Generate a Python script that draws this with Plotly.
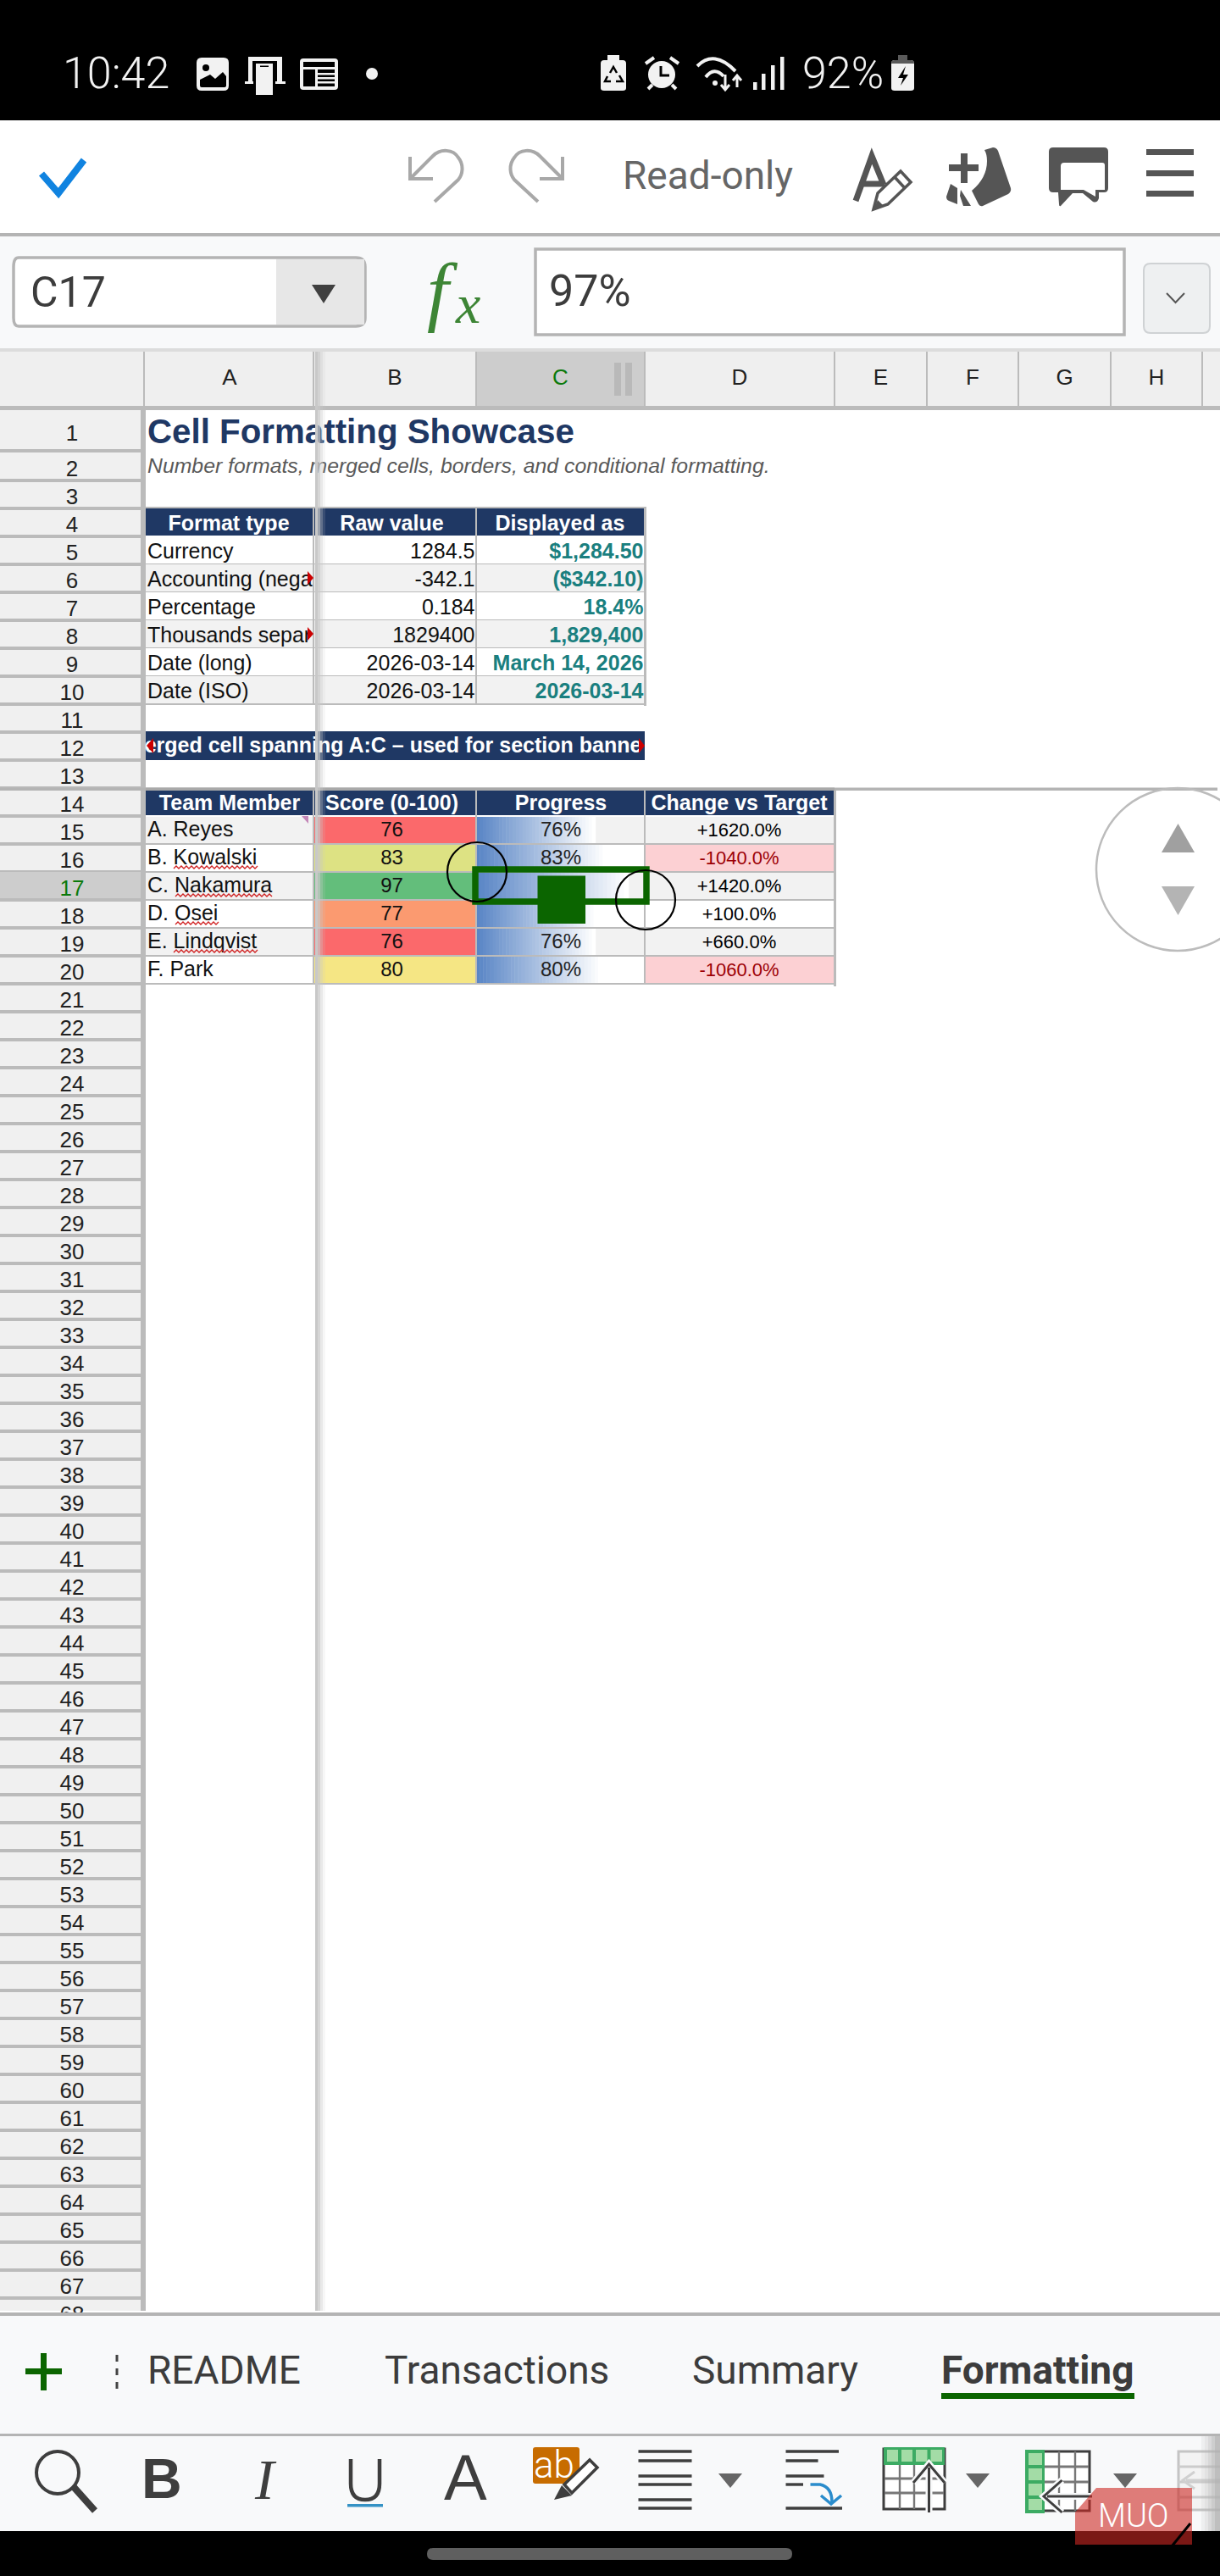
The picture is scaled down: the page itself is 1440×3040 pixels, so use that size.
import plotly.graph_objects as go

# sheet content
row_numbers = list(range(1, 69))
column_letters = ["A", "B", "C", "D", "E", "F", "G", "H"]

title_text = "Cell Formatting Showcase"
subtitle_text = "Number formats, merged cells, borders, and conditional formatting."
banner_text = "erged cell spanning A:C – used for section banne"

format_headers = ["Format type", "Raw value", "Displayed as"]
format_types = ["Currency", "Accounting (nega", "Percentage", "Thousands separ", "Date (long)", "Date (ISO)"]
raw_values = ["1284.5", "-342.1", "0.184", "1829400", "2026-03-14", "2026-03-14"]
displayed_as = ["$1,284.50", "($342.10)", "18.4%", "1,829,400", "March 14, 2026", "2026-03-14"]

team_headers = ["Team Member", "Score (0-100)", "Progress", "Change vs Target"]
team_members = ["A. Reyes", "B. Kowalski", "C. Nakamura", "D. Osei", "E. Lindqvist", "F. Park"]
scores = [76, 83, 97, 77, 76, 80]
score_colors = ["#fb696b", "#dde283", "#63be7b", "#fb9a70", "#fb696b", "#f5e684"]
change_vs_target = [1620.0, -1040.0, 1420.0, 100.0, 660.0, -1060.0]

sheet_tabs = ["README", "Transactions", "Summary"]
active_tab = "Formatting"

W, H = 1440, 3040
NAVY = "#1f3864"
GRID = "#bbbbbb"
PANEL = "#f8f9fa"
GREEN = "#0b6500"
WHITE = "#f2f2f2"
ICON = "#555555"
DARK = "#3e3e3e"
SANS = "Liberation Sans"
UI = "Roboto"

col_edges = [172, 370, 562, 761, 985, 1094, 1202, 1311, 1419, 1440]
row_h = 33.0
text_dy = 3


def row_bottom(k):
    return 567 + (k - 2) * row_h


def row_top(k):
    return 532 if k == 2 else row_bottom(k - 1)


fig = go.Figure()
shapes = []


def rect(x0, y0, x1, y1, color, layer="below", opacity=1):
    shapes.append(dict(type="rect", x0=x0, y0=y0, x1=x1, y1=y1, fillcolor=color,
                       line=dict(width=0), layer=layer, opacity=opacity))


def top(x0, y0, x1, y1, color, opacity=1):
    rect(x0, y0, x1, y1, color, layer="above", opacity=opacity)


def path(d, color=None, width=0, fill=None, layer="above"):
    shapes.append(dict(type="path", path=d, layer=layer,
                       line=dict(color=color or "rgba(0,0,0,0)", width=width),
                       fillcolor=fill or "rgba(0,0,0,0)"))


def circle(cx, cy, r, color, width, fill=None, layer="above"):
    shapes.append(dict(type="circle", x0=cx - r, y0=cy - r, x1=cx + r, y1=cy + r, layer=layer,
                       line=dict(color=color, width=width), fillcolor=fill or "rgba(0,0,0,0)"))


def box(x0, y0, x1, y1, color, width, fill):
    shapes.append(dict(type="rect", x0=x0, y0=y0, x1=x1, y1=y1, layer="above",
                       line=dict(color=color, width=width), fillcolor=fill))


def text(xs, ys, labels, size, color, family=SANS, pos="middle center", bold=False, italic=False):
    fig.add_trace(go.Scatter(
        x=xs, y=[y + text_dy for y in ys], text=labels, mode="text", textposition=pos, cliponaxis=False,
        hoverinfo="skip", showlegend=False,
        textfont=dict(size=size, color=color, family=family,
                      weight=700 if bold else 400, style="italic" if italic else "normal"),
    ))


def label(x, y, s, size, color, family=UI, anchor="left", weight=400):
    # annotations stay on top of the chrome shapes
    fig.add_annotation(x=x, y=y, text=s, showarrow=False, xanchor=anchor, yanchor="middle",
                       font=dict(size=size, color=color, family=family, weight=weight))


# app chrome
rect(0, 0, W, 142, "#000000")
rect(0, 142, W, 275, "#ffffff")
rect(0, 275, W, 279, "#b4b4b4")
rect(0, 279, W, 411, PANEL)
rect(0, 411, W, 415, "#dcdcdc")
rect(0, 415, W, 2730, "#ffffff")

# column header strip
rect(0, 415, W, 480, "#efefef")
rect(col_edges[2], 415, col_edges[3], 480, "#cdcdcd")
for x in [170] + col_edges[1:9]:
    rect(x - 1, 415, x + 1, 480, GRID)
rect(0, 479, W, 484, GRID)
centers = [(col_edges[i] + col_edges[i + 1]) / 2 for i in range(8)]
text(centers, [444] * 8, column_letters, 26, ["#222222", "#222222", "#0b7a0b"] + ["#222222"] * 5)
rect(725, 428, 733, 467, "#b9b9b9")
rect(738, 428, 746, 467, "#b9b9b9")

# row headers
rect(0, 484, 168, 2727, "#f0f0f0")
rect(166, 484, 172, 2727, GRID)
row_ys = []
for k in row_numbers:
    t = 487 if k == 1 else row_top(k)
    b = 532 if k == 1 else row_bottom(k)
    if k == 17:
        rect(0, t, 166, b, "#cdcdcd")
    if k < 68:
        rect(0, b - 2, 167, b + 2, GRID)
    row_ys.append(510 if k == 1 else b - 15)
text([85] * len(row_numbers), row_ys, [str(k) for k in row_numbers], 26,
     ["#0b7a0b" if k == 17 else "#222222" for k in row_numbers])

# title rows
text([174], [510], [title_text], 40.3, NAVY, pos="middle right", bold=True)
text([174], [549], [subtitle_text], 24.8, "#595959", pos="middle right", italic=True)

# first table
x = col_edges
rect(x[0], 600, x[3], 632, NAVY)
for i in range(3):
    text([[270, 462.5, 661][i]], [617], [format_headers[i]], 25, "#ffffff", bold=True)
    if i:
        rect(x[i] - 0.7, 600, x[i] + 0.7, 632, "#8a97ad")
for i in range(6):
    k = 5 + i
    y0, y1 = row_bottom(k - 1), row_bottom(k)
    rect(x[0], y0, x[3], y1, "#ffffff" if i % 2 == 0 else "#f2f2f2")
    rect(x[0], y1 - 1, x[3], y1 + 1, GRID)
    yc = (y0 + y1) / 2
    text([174], [yc], [format_types[i]], 25, "#111111", pos="middle right")
    text([560.5], [yc], [raw_values[i]], 25, "#111111", pos="middle left")
    text([759.5], [yc], [displayed_as[i]], 25, "#1a7f7f", pos="middle left", bold=True)
for e in x[1:4]:
    rect(e - 1, 600, e + 1, row_bottom(10) + 1, GRID, layer="below")
rect(x[3] - 1, 598, x[3] + 2, row_bottom(10) + 2, GRID)
rect(x[0], 598, x[3], 600, GRID)

# merged banner
rect(x[0], 863, x[3], 897, NAVY)
text([464], [879], [banner_text], 25, "#ffffff", bold=True)

# second table
rect(x[0], 933, x[4], 962, NAVY)
hdr_x = [271, 462.5, 662, 872.5]
for i in range(4):
    text([hdr_x[i]], [947], [team_headers[i]], 25, "#ffffff", bold=True)
    if i:
        rect(x[i] - 0.7, 933, x[i] + 0.7, 962, "#8a97ad")
bar_left, bar_scale = x[2], (x[3] - x[2]) / 100 * 0.93
for i in range(6):
    k = 15 + i
    y0, y1 = row_bottom(k - 1) + 1, row_bottom(k)
    bg = "#f2f2f2" if i % 2 == 0 else "#ffffff"
    rect(x[0], y0, x[4], y1, bg)
    rect(x[1], y0, x[2], y1, score_colors[i])
    # data bar fades from blue to white
    bar_w = scores[i] * bar_scale
    n = 36
    for s in range(n):
        f = s / (n - 1)
        r, g, b = (int(a + (c - a) * f) for a, c in zip((0x5a, 0x86, 0xc6), (0xff, 0xff, 0xff)))
        rect(bar_left + bar_w * s / n, y0, bar_left + bar_w * (s + 1) / n + 0.5, y1, f"rgb({r},{g},{b})")
    neg = change_vs_target[i] < 0
    if neg:
        rect(x[3], y0, x[4], y1, "#fcd0d3")
    rect(x[0], y1 - 1, x[4], y1 + 1, GRID)
    yc = (y0 + y1) / 2 - 2
    text([174], [yc], [team_members[i]], 25, "#111111", pos="middle right")
    text([462.5], [yc], [str(scores[i])], 24, "#111111")
    text([662], [yc], [f"{scores[i]}%"], 24, "#222222")
    text([872.5], [yc], [f"{change_vs_target[i]:+.1f}%"], 22, "#9c0006" if neg else "#000000")
for e in x[1:5]:
    rect(e - 1, 933, e + 1, row_bottom(20) + 1, GRID)
rect(x[4] - 1, 930, x[4] + 2, row_bottom(20) + 3, GRID)

# freeze pane line
top(0, 929.5, W - 3, 933, "#b4b4b4")
top(172, 929.5, x[4], 933, "#a9a9a9")

# red squiggles under the flagged names
for name_row, (sx0, sx1) in {16: (205, 303), 17: (207, 321), 18: (207, 257), 19: (205, 303)}.items():
    sy = row_bottom(name_row) - 4
    d = f"M {sx0},{sy}"
    xp, up = sx0, True
    while xp < sx1:
        xp += 3
        d += f" L {xp},{sy - 3 if up else sy}"
        up = not up
    path(d, "#d02020", 1.3)

# comment mark and clipped-text arrows
path("M 356,963 L 364,963 L 364,972 Z", fill="#c487b8")
for ay in (682, 748):
    path(f"M 363,{ay - 8} L 370,{ay} L 363,{ay + 8} Z", fill="#cc0000")
path("M 181,871 L 173,880 L 181,889 Z", fill="#cc0000")
path("M 754,871 L 761,880 L 754,889 Z", fill="#cc0000")

# shadow of the frozen column
for j, (a, c) in enumerate([(372, 375), (375, 378), (378, 381), (381, 384)]):
    top(a, 415, c, 2727, "#c8c8c8", opacity=[1, 0.75, 0.4, 0.15][j])

# selection box and handles
box(561, 1026, 763, 1064, GREEN, 7.5, "rgba(0,0,0,0)")
top(634.5, 1033.5, 691, 1090, GREEN)
circle(563, 1029, 35, "#000000", 2.2)
circle(762, 1062, 35, "#000000", 2.2)

# scroll nav
circle(1390, 1026, 96, "#bcbcbc", 2.5)
path("M 1371,1006 L 1390.5,972 L 1410,1006 Z", fill="#a0a0a0")
path("M 1371,1046 L 1390.5,1080 L 1410,1046 Z", fill="#b4b4b4")

# status bar
label(72, 86, "10:42", 52, WHITE, weight=300)
label(945, 86, "92%", 52, WHITE, weight=300)
path("M 238,68 H 264 Q 270,68 270,74 V 101 Q 270,107 264,107 H 238 Q 232,107 232,101 V 74 Q 232,68 238,68 Z", fill=WHITE)
circle(243, 80, 4, "#000000", 0, fill="#000000")
path("M 236,94 L 248,88 L 254,93 L 263,85 L 267,90 V 101 Q 267,103 264,103 H 238 Q 236,103 236,101 Z", fill="#000000")
top(293, 67, 333, 97, WHITE)
top(298, 72, 327, 97, "#000000")
top(289, 96, 300, 99, WHITE)
top(322, 96, 337, 99, WHITE)
top(299, 72, 325, 100, "#000000")
top(302, 75, 322, 112, WHITE)
top(307, 77.5, 317, 79, "#000000")
path("M 358,69 H 395 Q 399,69 399,73 V 102 Q 399,106 395,106 H 358 Q 354,106 354,102 V 73 Q 354,69 358,69 Z", fill=WHITE)
top(358, 73, 395, 79, "#000000")
top(358, 82, 372, 102, "#000000")
top(375, 82, 395, 102, "#000000")
for ly in (86, 91, 96):
    top(375, ly, 395, ly + 2.5, WHITE)
circle(439, 87, 7, WHITE, 0, fill=WHITE)
path("M 717,65 H 731 V 71 H 735 Q 739,71 739,75 V 104 Q 739,107 735,107 H 713 Q 709,107 709,104 V 75 Q 709,71 713,71 H 717 Z", fill=WHITE)
path("M 720,86 L 724,79 L 728,86 M 731,89 L 735,96 L 727,96 M 721,96 H 714 L 717,90", "#000000", 2.5)
circle(781, 88, 16, WHITE, 0, fill=WHITE)
path("M 780,78 V 89 H 790", "#000000", 3)
path("M 762,75 L 772,68 M 801,75 L 791,68 M 765,105 L 770,100 M 798,105 L 793,100", WHITE, 4)
path("M 823,78 Q 843,58 868,84", WHITE, 4)
path("M 833,91 Q 843,78 854,90", WHITE, 4)
circle(844, 98, 3, WHITE, 0, fill=WHITE)
path("M 856,88 V 106 M 851,100 L 856,106 L 861,100", WHITE, 3)
path("M 870,103 V 89 M 865,95 L 870,89 L 875,95", WHITE, 3)
for sx, st in zip((889, 899, 910, 921), (97, 87, 77, 67)):
    top(sx, st, sx + 4.5, 106, WHITE)
path("M 1060,65 H 1071 V 71 H 1075 Q 1079,71 1079,75 V 104 Q 1079,107 1075,107 H 1056 Q 1052,107 1052,104 V 75 Q 1052,71 1056,71 H 1060 Z", fill=WHITE)
path("M 1060,65 H 1071 V 71 H 1075 Q 1079,71 1079,75 H 1052 Q 1052,71 1056,71 H 1060 Z", fill="#5a5a5a")
path("M 1069,78 L 1060,92 H 1066 L 1063,101 L 1072,88 H 1066 Z", fill="#000000")

# top toolbar
path("M 49,205 L 69,228 L 99,189", "#1083e0", 8)
path("M 484,185 V 211 H 511 M 484,211 L 511,184 C 520,175 535,176 541,186 C 548,195 546,206 541,212 L 513,238", "#a8a8a8", 4)
path("M 664,185 V 211 H 637 M 664,211 L 637,184 C 628,175 613,176 607,186 C 600,195 602,206 607,212 L 635,238", "#a8a8a8", 4)
label(733, 207, "Read-only", 46, "#666666")
path("M 1010,237 L 1029,184 L 1043,218 M 1018,217 H 1044", ICON, 7)
path("M 1031,247 L 1036,228 L 1063,202 L 1075,215 L 1048,241 Z", ICON, 3.5, fill="#ffffff")
path("M 1031,247 L 1036,236 L 1043,243 Z", fill=ICON)
path("M 1056,209 L 1068,222", ICON, 3.5)
top(1120, 194, 1155, 202, ICON)
top(1134, 181, 1142, 216, ICON)
path("M 1162,177 L 1172,174 Q 1176,174 1178,178 L 1193,222 Q 1194,226 1190,229 L 1160,243 Q 1157,244 1155,241 "
     "L 1147,225 Q 1165,210 1165,190 Q 1165,182 1162,177 Z", fill=ICON)
path("M 1122,217 L 1117,232 Q 1117,236 1120,237 L 1130,241 V 222 Z", fill=ICON)
path("M 1134,224 L 1146,243 H 1137 L 1133,231 Z", fill=ICON)
path("M 1243,174 H 1303 Q 1308,174 1308,179 V 222 Q 1308,227 1303,227 H 1297 V 234 Q 1295,240 1290,238 L 1278,228 "
     "L 1266,228 L 1252,243 Q 1250,244 1250,241 L 1249,227 H 1243 Q 1238,227 1238,222 V 179 Q 1238,174 1243,174 Z", fill=ICON)
path("M 1256,192 H 1301 Q 1304,192 1304,195 V 224 H 1293 V 232 L 1279,224 H 1252 V 196 Q 1252,192 1256,192 Z", fill="#ffffff")
for ty0 in (176, 201, 225):
    top(1353, ty0, 1409, ty0 + 7, ICON)

# formula bar
path("M 22,304 H 420 Q 431,304 431,315 V 375 Q 431,385 420,385 H 22 Q 16,385 16,375 V 315 Q 16,304 22,304 Z",
     "#b4b4b4", 3.5, fill="#ffffff")
top(326, 306, 430, 383, "#e7e7e7")
path("M 368,336 L 396,336 L 382,358 Z", fill="#404040")
label(34, 345, "C17", 50, "#3c3c3c")
fig.add_annotation(x=522, y=343, text="<i>f</i>", showarrow=False, font=dict(size=92, color="#3d8535", family="Liberation Serif"))
fig.add_annotation(x=552, y=358, text="<i>x</i>", showarrow=False, font=dict(size=66, color="#3d8535", family="Liberation Serif"))
box(632, 294, 1327, 395, "#b4b4b4", 3.5, "#ffffff")
label(646, 343, "97%", 52, "#3c3c3c")
path("M 1358,311 H 1420 Q 1428,311 1428,319 V 385 Q 1428,393 1420,393 H 1358 Q 1350,393 1350,385 V 319 Q 1350,311 1358,311 Z",
     "#cfd2d4", 2, fill="#eef0f1")
path("M 1377,346 L 1387.5,357 L 1398,346", "#555555", 2)

# sheet tabs
top(0, 2729, W, 2733, "#b4b4b4")
top(0, 2733, W, 2987, PANEL)
top(0, 2872, W, 2875, "#b4b4b4")
top(30, 2795, 73, 2802, GREEN)
top(48, 2777, 55, 2821, GREEN)
for dy in (2783, 2799, 2815):
    top(136.5, dy - 4, 139.5, dy + 4, "#444444")
tab_x = [172, 452, 815]
for tx, tab in zip(tab_x, sheet_tabs):
    label(tx, 2797, tab, 46, "#3c3c3c")
label(1109, 2797, active_tab, 46, "#3c3c3c", weight=700)
top(1111, 2824, 1339, 2831, GREEN)

# bottom toolbar
circle(68, 2918, 25, DARK, 4)
path("M 87,2935 L 112,2963", DARK, 8)
fig.add_annotation(x=191, y=2925, text="<b>B</b>", showarrow=False, font=dict(size=66, color=DARK, family=SANS))
fig.add_annotation(x=313, y=2926, text="<i>I</i>", showarrow=False, font=dict(size=68, color=DARK, family="Liberation Serif"))
path("M 414,2902 V 2931 Q 414,2950 431,2950 Q 448,2950 448,2931 V 2902", DARK, 4.5)
top(410, 2955, 452, 2958.5, "#3592c5")
fig.add_annotation(x=549.5, y=2923, text="A", showarrow=False, font=dict(size=76, color=DARK, family=SANS))
path("M 632,2888 H 681 Q 684,2888 684,2891 V 2928 Q 684,2931 681,2931 H 632 Q 629,2931 629,2928 V 2891 Q 629,2888 632,2888 Z", fill="#c76c00")
label(654, 2909, "ab", 44, "#ffffff", anchor="center", weight=300)
path("M 666,2932 L 696,2903 L 705,2912 L 675,2942 Z", DARK, 3.5, fill="#ffffff")
path("M 654,2950 L 663,2933 L 675,2945 Z", fill=DARK)
for ly in (2893, 2904, 2922, 2932, 2950, 2960):
    top(753.5, ly - 1.7, 816.5, ly + 1.7, DARK)
path("M 848,2919 H 876 L 862,2936 Z", fill="#666666")
for lx1, ly in [(990, 2893), (965.6, 2904), (972.5, 2922), (948, 2932), (994, 2960)]:
    top(927.5, ly - 1.7, lx1, ly + 1.7, DARK)
path("M 956.5,2932 H 968 Q 982,2935 982,2953 M 969,2945 L 981,2955 L 993,2945", "#2a8ccc", 3.5)

# freeze row icon
box(1043, 2890, 1115, 2961, DARK, 3, "#ffffff")
top(1043, 2888, 1115, 2909, "#3cab63")
top(1047, 2891, 1060, 2905, "#a3dca6")
top(1064, 2891, 1077, 2905, "#a3dca6")
top(1081, 2891, 1094.5, 2905, "#a3dca6")
top(1098.5, 2891, 1112, 2905, "#a3dca6")
for gx in (1062, 1079, 1096.5):
    top(gx - 1.2, 2909, gx + 1.2, 2961, "#777777")
for gy in (2925, 2942):
    top(1044, gy - 1.5, 1114, gy + 1.5, "#777777")
path("M 1096.5,2965 V 2912 M 1078,2930 L 1096.5,2908 L 1115,2930", "#f8f9fa", 8)
path("M 1096.5,2965 V 2912 M 1078,2930 L 1096.5,2908 L 1115,2930", DARK, 3)
path("M 1140,2919 H 1168 L 1154,2936 Z", fill="#666666")

# freeze column icon
box(1212, 2893, 1286, 2963, DARK, 3, "#ffffff")
top(1210, 2891, 1233, 2966, "#3cab63")
for gy0, gy1 in [(2895, 2909), (2913, 2927), (2931, 2945), (2949, 2962)]:
    top(1214, gy0, 1230, gy1, "#a3dca6")
for gx in (1250, 1269):
    top(gx - 1.2, 2893, gx + 1.2, 2963, "#777777")
for gy in (2911, 2929, 2947):
    top(1233, gy - 1.5, 1285, gy + 1.5, "#777777")
path("M 1289,2946 H 1236 M 1253.5,2927 L 1232,2946 L 1253.5,2965", "#f8f9fa", 8)
path("M 1289,2946 H 1236 M 1253.5,2927 L 1232,2946 L 1253.5,2965", DARK, 3)
path("M 1314,2919 H 1342 L 1328,2936 Z", fill="#666666")

# greyed icon at the edge
box(1391, 2893, 1445, 2962, "#c4c4c4", 3, "#f3f3f3")
for gy in (2911, 2929, 2947):
    top(1391, gy - 1.5, 1440, gy + 1.5, "#cccccc")
path("M 1440,2927 H 1400 M 1410,2917 L 1396,2927 L 1410,2937", "#d0d0d0", 3)
for j, fx in enumerate((1418, 1422, 1426, 1430, 1434)):
    top(fx, 2875, fx + 4 if fx < 1434 else W, 2987, "#b0b0b0", opacity=[0.12, 0.25, 0.42, 0.6, 0.8][j])

# bottom black band and pill
top(0, 2987, W, H, "#000000")
path("M 511,3007 H 928 Q 935,3007 935,3014 Q 935,3021 928,3021 H 511 Q 504,3021 504,3014 Q 504,3007 511,3007 Z", fill="#5f5f5f")

# MUO watermark
path("M 1294,2936 H 1407 V 3003 H 1269 V 2965 Z", fill="rgba(205,40,35,0.6)")
path("M 1405,2978 L 1383,3005", "#000000", 3)
label(1338, 2969, "MUO", 38, "#ffffff", anchor="center", weight=300)

fig.update_layout(
    width=W, height=H, margin=dict(l=0, r=0, t=0, b=0),
    paper_bgcolor="#ffffff", plot_bgcolor="#ffffff", showlegend=False, shapes=shapes,
    xaxis=dict(range=[0, W], visible=False, fixedrange=True),
    yaxis=dict(range=[H, 0], visible=False, fixedrange=True),
)
fig.write_html("out.html", config=dict(displayModeBar=False),
               post_script="document.body.style.margin='0';")
